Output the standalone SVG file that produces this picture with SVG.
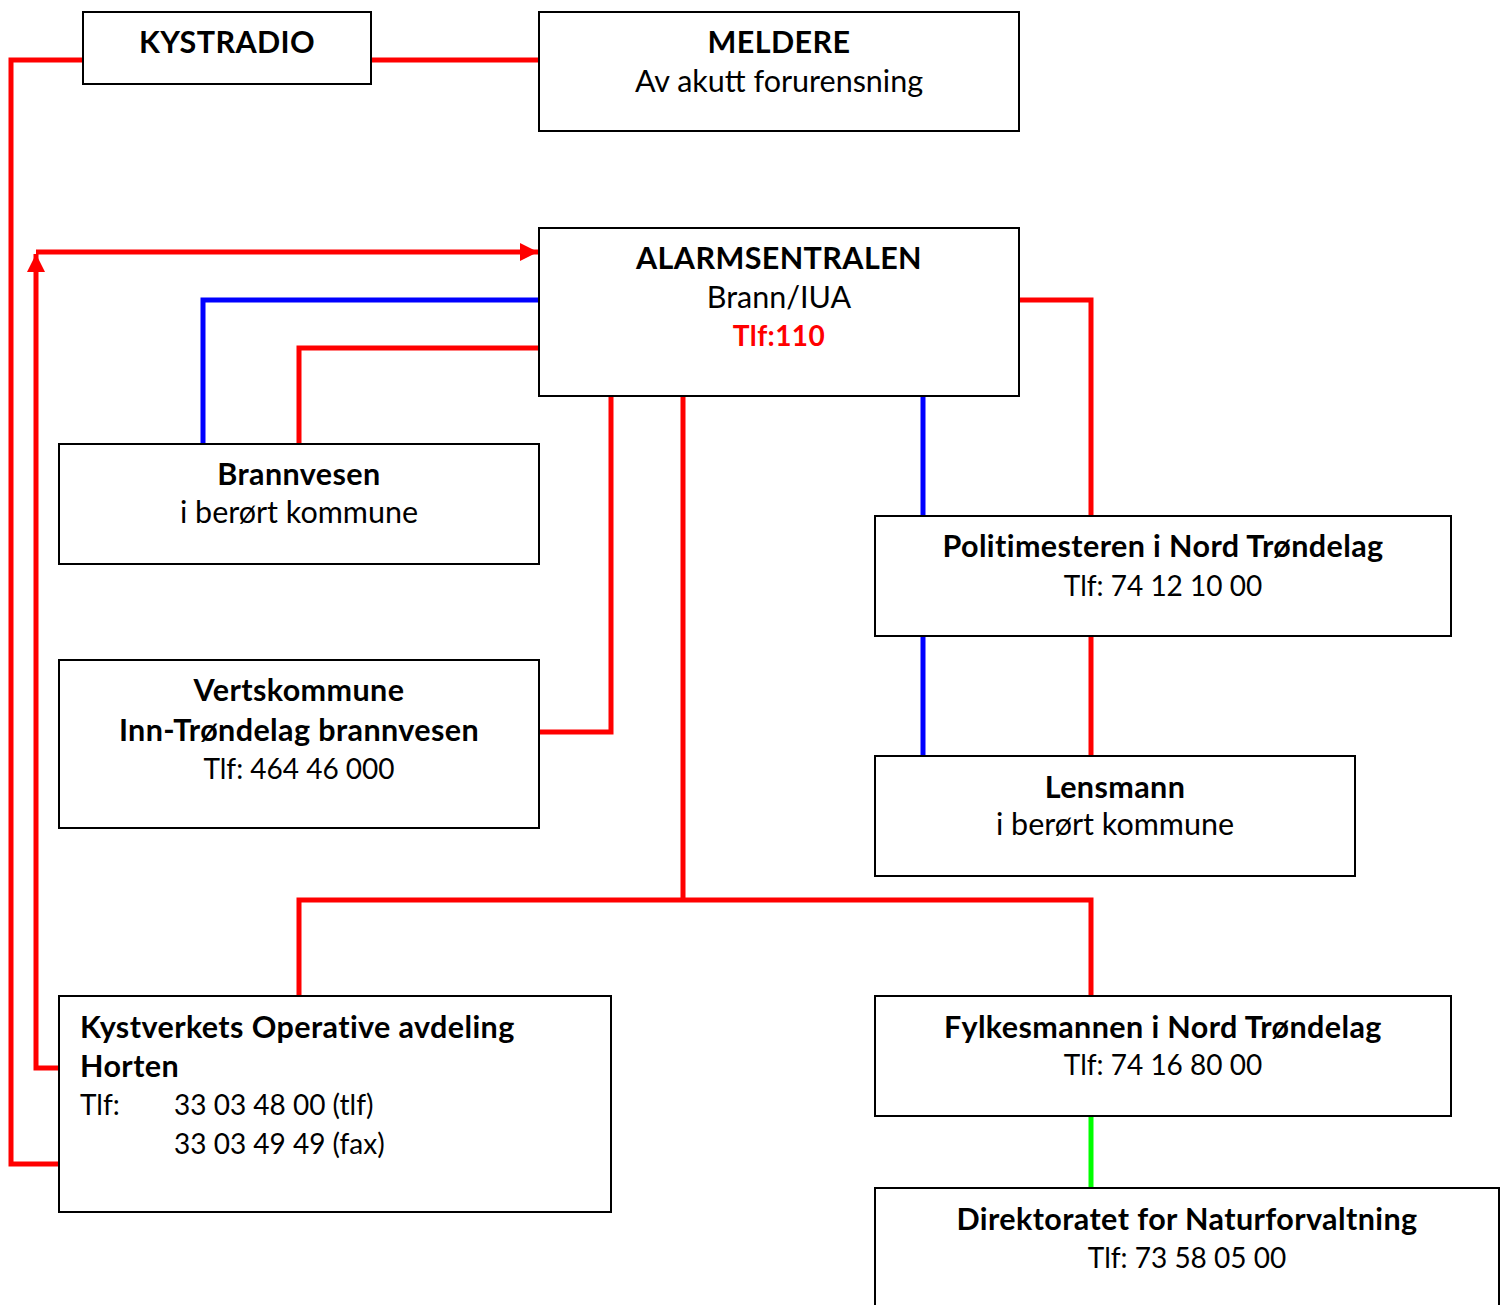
<svg xmlns="http://www.w3.org/2000/svg" width="1507" height="1305" viewBox="0 0 1507 1305">
<style>
.box{fill:#fff;stroke:#000;stroke-width:2}
text{font-family:Lato,"Open Sans","Liberation Sans",sans-serif;font-size:30.5px;fill:#000;text-anchor:middle}
.b{font-weight:bold;letter-spacing:0.4px}
.n{font-size:28px}
.l{text-anchor:start}
.red{stroke:#ff0000;stroke-width:5;fill:none}
.blue{stroke:#0000ff;stroke-width:5;fill:none}
.green{stroke:#00ff00;stroke-width:5;fill:none}
</style>
<defs>
<marker id="arr" viewBox="0 0 10 10" refX="10" refY="5" markerWidth="3.8" markerHeight="3.6" orient="auto" markerUnits="strokeWidth">
<path d="M0,0 L10,5 L0,10 z" fill="#ff0000"/>
</marker>
</defs>
<g id="connectors">
<polyline class="red" points="83,60 11,60 11,1164 59,1164"/>
<line class="red" x1="371" y1="60" x2="539" y2="60"/>
<polyline class="red" points="59,1068 36,1068 36,254" marker-end="url(#arr)"/>
<line class="red" x1="36" y1="252" x2="538" y2="252" marker-end="url(#arr)"/>
<polyline class="blue" points="539,300 203,300 203,444"/>
<polyline class="red" points="539,348 299,348 299,444"/>
<polyline class="red" points="611,396 611,732 539,732"/>
<line class="red" x1="683" y1="396" x2="683" y2="900"/>
<polyline class="red" points="299,996 299,900 1091,900 1091,996"/>
<line class="blue" x1="923" y1="396" x2="923" y2="516"/>
<line class="blue" x1="923" y1="636" x2="923" y2="756"/>
<polyline class="red" points="1019,300 1091,300 1091,516"/>
<line class="red" x1="1091" y1="636" x2="1091" y2="756"/>
<line class="green" x1="1091" y1="1116" x2="1091" y2="1188"/>
</g>
<g id="kystradio">
<rect class="box" x="83" y="12" width="288" height="72"/>
<text class="b" x="227" y="53">KYSTRADIO</text>
</g>
<g id="meldere">
<rect class="box" x="539" y="12" width="480" height="119"/>
<text class="b" x="779" y="53">MELDERE</text>
<text x="779" y="92">Av akutt forurensning</text>
</g>
<g id="alarmsentralen">
<rect class="box" x="539" y="228" width="480" height="168"/>
<text class="b" x="779" y="269">ALARMSENTRALEN</text>
<text x="779" y="308">Brann/IUA</text>
<text class="b n" x="779" y="346" style="fill:#ff0000">Tlf:110</text>
</g>
<g id="brannvesen">
<rect class="box" x="59" y="444" width="480" height="120"/>
<text class="b" x="299" y="485">Brannvesen</text>
<text x="299" y="523">i berørt kommune</text>
</g>
<g id="vertskommune">
<rect class="box" x="59" y="660" width="480" height="168"/>
<text class="b" x="299" y="701">Vertskommune</text>
<text class="b" x="299" y="741">Inn-Trøndelag brannvesen</text>
<text class="n" x="299" y="779">Tlf: 464 46 000</text>
</g>
<g id="politimesteren">
<rect class="box" x="875" y="516" width="576" height="120"/>
<text class="b" x="1163" y="557">Politimesteren i Nord Trøndelag</text>
<text class="n" x="1163" y="596">Tlf: 74 12 10 00</text>
</g>
<g id="lensmann">
<rect class="box" x="875" y="756" width="480" height="120"/>
<text class="b" x="1115" y="798">Lensmann</text>
<text x="1115" y="835">i berørt kommune</text>
</g>
<g id="kystverket">
<rect class="box" x="59" y="996" width="552" height="216"/>
<text class="b l" x="80" y="1038">Kystverkets Operative avdeling</text>
<text class="b l" x="80" y="1077">Horten</text>
<text class="l n" x="80" y="1115">Tlf:</text>
<text class="l n" x="174" y="1115">33 03 48 00 (tlf)</text>
<text class="l n" x="174" y="1154">33 03 49 49 (fax)</text>
</g>
<g id="fylkesmannen">
<rect class="box" x="875" y="996" width="576" height="120"/>
<text class="b" x="1163" y="1038">Fylkesmannen i Nord Trøndelag</text>
<text class="n" x="1163" y="1075">Tlf: 74 16 80 00</text>
</g>
<g id="direktoratet">
<rect class="box" x="875" y="1188" width="624" height="130"/>
<text class="b" x="1187" y="1230">Direktoratet for Naturforvaltning</text>
<text class="n" x="1187" y="1268">Tlf: 73 58 05 00</text>
</g>
</svg>
